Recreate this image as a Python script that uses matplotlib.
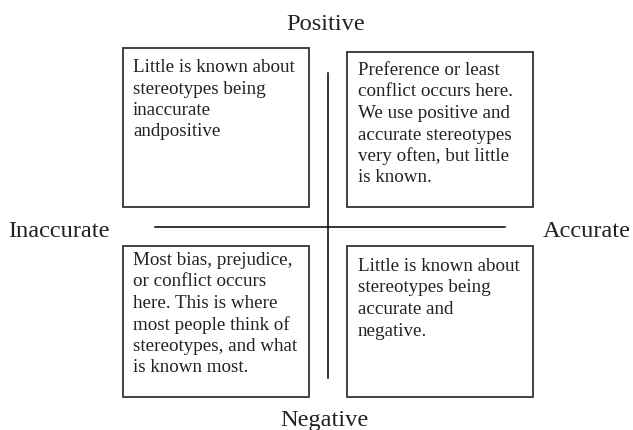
import matplotlib
matplotlib.use('Agg')
import matplotlib.pyplot as plt
from matplotlib.patches import Rectangle

plt.rcParams['font.family'] = ['Liberation Serif', 'DejaVu Serif']

# axis labels: top, bottom, left, right
axis_labels = ['Positive', 'Negative', 'Inaccurate', 'Accurate']

# quadrant texts: top-left, top-right, bottom-left, bottom-right
quadrant_texts = [
    ['Little is known about', 'stereotypes being', 'inaccurate', 'andpositive'],
    ['Preference or least', 'conflict occurs here.', 'We use positive and',
     'accurate stereotypes', 'very often, but little', 'is known.'],
    ['Most bias, prejudice,', 'or conflict occurs', 'here. This is where',
     'most people think of', 'stereotypes, and what', 'is known most.'],
    ['Little is known about', 'stereotypes being', 'accurate and', 'negative.'],
]

# box geometry in pixels (x0, y0, x1, y1)
boxes = [(123, 48, 309, 207), (347, 52, 533, 207),
         (123, 246, 309, 397), (347, 246, 533, 397)]
text_pos = [(133, 72), (358, 75), (133, 265), (358, 271)]
line_step = 21.5

fig = plt.figure(figsize=(6.33, 4.30), dpi=100)
ax = fig.add_axes([0, 0, 1, 1])
ax.set_xlim(0, 633)
ax.set_ylim(430, 0)
ax.axis('off')

for (x0, y0, x1, y1), (tx, ty), lines in zip(boxes, text_pos, quadrant_texts):
    ax.add_patch(Rectangle((x0, y0), x1 - x0, y1 - y0, fill=False,
                           edgecolor='#333333', linewidth=1.3))
    for i, line in enumerate(lines):
        ax.text(tx, ty + i * line_step, line, fontsize=13.7, ha='left',
                va='baseline', color='#222222')

# cross lines
ax.plot([328, 328], [73, 378], color='black', linewidth=1.1)
ax.plot([155, 505], [227, 227], color='black', linewidth=1.1)

ax.text(326, 30, axis_labels[0], fontsize=17.6, ha='center', va='baseline', color='#222222')
ax.text(324, 426, axis_labels[1], fontsize=17.6, ha='center', va='baseline', color='#222222')
ax.text(8, 237, axis_labels[2], fontsize=17.6, ha='left', va='baseline', color='#222222')
ax.text(543, 237, axis_labels[3], fontsize=17.6, ha='left', va='baseline', color='#222222')

fig.savefig('out.png', dpi=100)
